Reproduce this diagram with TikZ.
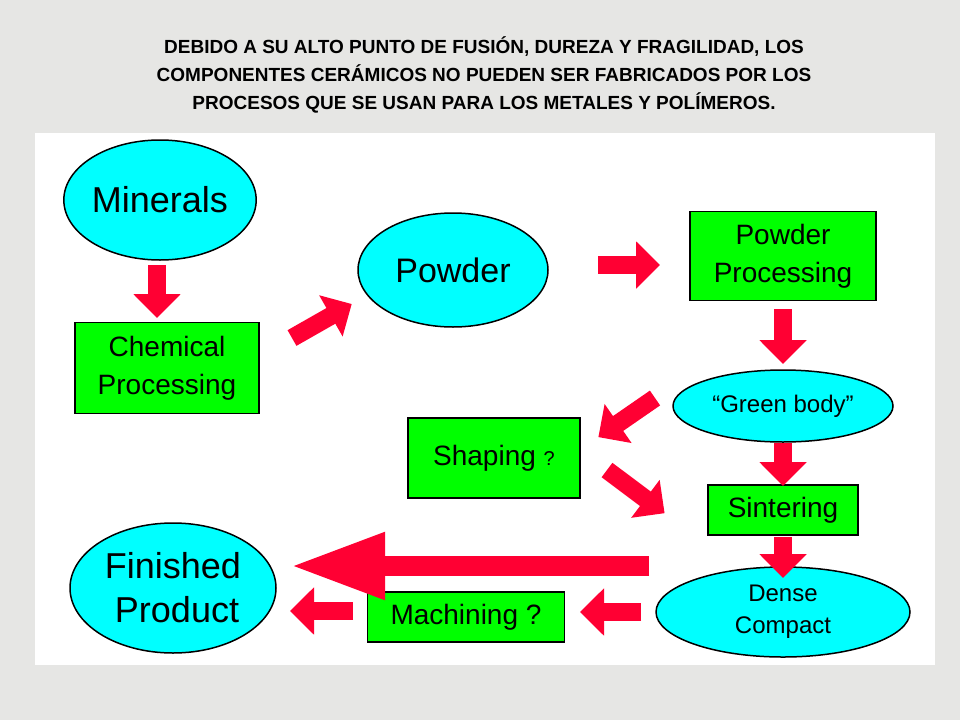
\documentclass[tikz,border=0pt]{standalone}
\usepackage{fontspec}
\setmainfont{Liberation Sans}
\usetikzlibrary{arrows.meta,shapes.geometric}
\definecolor{bg}{HTML}{E6E6E4}
\definecolor{cy}{HTML}{00FFFF}
\definecolor{gr}{HTML}{00FF00}
\definecolor{rd}{HTML}{FF0033}
\tikzset{
 ell/.style={ellipse,draw=black,line width=1.5pt,fill=cy,inner sep=0pt,align=center},
 box/.style={rectangle,draw=black,line width=1.5pt,fill=gr,inner sep=0pt,align=center},
 fat/.style={draw=rd,line width=18pt,-{Triangle[length=24pt,width=46pt]},shorten >=-2pt},
}
\begin{document}
\begin{tikzpicture}[x=1pt,y=-1pt]
\useasboundingbox (0,0) rectangle (960,720);
\fill[bg] (0,0) rectangle (960,720);
\fill[white] (35,133) rectangle (935,665);
\node[font=\bfseries\fontsize{19}{28}\selectfont,align=center] (title) at (484,75)
 {DEBIDO A SU ALTO PUNTO DE FUSIÓN, DUREZA Y FRAGILIDAD, LOS\\COMPONENTES CERÁMICOS NO PUEDEN SER FABRICADOS POR LOS\\PROCESOS QUE SE USAN PARA LOS METALES Y POLÍMEROS.};
% nodes
\node[ell,minimum width=190,minimum height=120,font=\fontsize{36}{40}\selectfont] (min) at (160,200) {Minerals};
\node[box,minimum width=184,minimum height=91,font=\fontsize{28}{38}\selectfont] (chem) at (167,368) {Chemical\\Processing};
\node[ell,minimum width=190,minimum height=114,font=\fontsize{34}{40}\selectfont] (pow) at (453,270) {Powder};
\node[box,minimum width=186,minimum height=89,font=\fontsize{28}{38}\selectfont] (pp) at (783,256) {Powder\\Processing};
\node[ell,minimum width=220,minimum height=72,font=\fontsize{24}{28}\selectfont] (gb) at (783,406) {“Green body”};
\node[box,minimum width=172,minimum height=80,font=\fontsize{28}{32}\selectfont] (sh) at (494,458) {Shaping {\fontsize{20}{24}\selectfont ?}};
\node[box,minimum width=150,minimum height=50,font=\fontsize{28}{32}\selectfont] (sin) at (783,510) {Sintering};
\node[ell,minimum width=254,minimum height=90,font=\fontsize{24}{32}\selectfont] (dc) at (783,612) {Dense\\Compact};
\node[box,minimum width=197,minimum height=50,font=\fontsize{28}{32}\selectfont] (mac) at (466,617) {Machining ?};
\node[ell,minimum width=206,minimum height=130,font=\fontsize{36}{44}\selectfont,align=left] (fin) at (173,588) {Finished\\\ Product};
% arrows
\coordinate (a1) at (157,265); \coordinate (b1) at (157,316);
\coordinate (a2) at (292,338); \coordinate (b2) at (350,305);
\coordinate (a3) at (598,265); \coordinate (b3) at (658,265);
\coordinate (a4) at (783,309); \coordinate (b4) at (783,362);
\coordinate (a5) at (655,398); \coordinate (b5) at (600,436);
\coordinate (a6) at (607,470); \coordinate (b6) at (663,512);
\coordinate (a7) at (783,443); \coordinate (b7) at (783,484);
\coordinate (a8) at (783,537); \coordinate (b8) at (783,576);
\coordinate (a9) at (649,566); \coordinate (b9) at (290,566);
\coordinate (a10) at (641,612); \coordinate (b10) at (582,612);
\coordinate (a11) at (353,611); \coordinate (b11) at (292,611);
\foreach \i in {1,...,8,10,11} \draw[fat] (a\i) -- (b\i);
\draw[draw=rd,line width=20pt,-{Triangle[length=95pt,width=62pt]}] (a9) -- (b9);
\end{tikzpicture}
\end{document}
